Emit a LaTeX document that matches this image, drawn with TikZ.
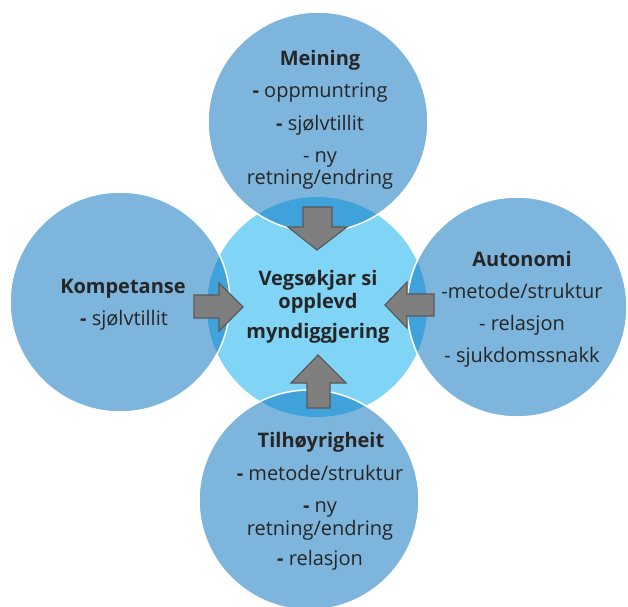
\documentclass[tikz,border=0pt]{standalone}
\usepackage{fontspec}
\setmainfont{Open Sans}
\definecolor{outerblue}{HTML}{7DB5DD}
\definecolor{centerblue}{HTML}{80D4F6}
\definecolor{overlapblue}{HTML}{3FA2DB}
\definecolor{arrowgray}{HTML}{7F7F7F}
\definecolor{arrowedge}{HTML}{595959}
\definecolor{txtcol}{HTML}{262626}
\begin{document}
\begin{tikzpicture}[x=1pt,y=-1pt,
  circ/.style={circle,minimum size=220pt,inner sep=0pt},
  outercirc/.style={circ,fill=outerblue},
  ring/.style={circ,draw=white,line width=1.5pt},
  blockarrow/.style={fill=arrowgray,draw=arrowedge,line width=1.2pt,line join=miter},
  txt/.style={anchor=base,inner sep=0pt,text=txtcol,font=\fontsize{20}{22}\selectfont},
  btxt/.style={txt,font=\fontsize{20}{22}\selectfont\bfseries}]
\useasboundingbox (0,0) rectangle (628,606);
% circles
\node[circ,fill=centerblue] (C) at (317,307) {};
\node[outercirc] (T) at (318,122) {};
\node[outercirc] (L) at (120,302) {};
\node[outercirc] (R) at (517,307) {};
\node[outercirc] (B) at (309,500) {};
% overlaps
\begin{scope}
  \clip (317,307) circle (110);
  \fill[overlapblue] (318,122) circle (110);
  \fill[overlapblue] (120,302) circle (110);
  \fill[overlapblue] (517,307) circle (110);
  \fill[overlapblue] (309,500) circle (110);
\end{scope}
\node[ring] at (T) {};
\node[ring] at (L) {};
\node[ring] at (R) {};
\node[ring] at (B) {};
% arrows
\draw[blockarrow] (303,207) -- (332,207) -- (332,227) -- (347,227) -- (317,250) -- (288,227) -- (303,227) -- cycle;
\draw[blockarrow] (194,295) -- (219,295) -- (219,283) -- (243,307) -- (219,331) -- (219,318) -- (194,318) -- cycle;
\draw[blockarrow] (434,294) -- (407,294) -- (407,282) -- (385,305) -- (407,328) -- (407,316) -- (434,316) -- cycle;
\draw[blockarrow] (307,408) -- (307,383) -- (291,383) -- (318,355) -- (346,383) -- (330,383) -- (330,408) -- cycle;
% texts: Meining
\node[btxt] (m0) at (320,65) {Meining};
\node[txt] (m1) at (320,97) {\textbf{-} oppmuntring};
\node[txt] (m2) at (320,130) {\textbf{-} sjølvtillit};
\node[txt] (m3) at (320,162) {- ny};
\node[txt] (m4) at (320,184) {retning/endring};
% centre
\node[btxt] (c0) at (318,285) {Vegsøkjar si};
\node[btxt] (c1) at (318,308) {opplevd};
\node[btxt] (c2) at (318,338) {myndiggjering};
% Kompetanse
\node[btxt] (k0) at (123,293) {Kompetanse};
\node[txt] (k1) at (124,325) {\textbf{-} sjølvtillit};
% Autonomi
\node[btxt] (a0) at (522,266) {Autonomi};
\node[txt] (a1) at (522,298) {-metode/struktur};
\node[txt] (a2) at (522,330) {- relasjon};
\node[txt] (a3) at (522,362) {- sjukdomssnakk};
% Tilhoyrigheit
\node[btxt] (h0) at (321,447) {Tilhøyrigheit};
\node[txt] (h1) at (320,480) {\textbf{-} metode/struktur};
\node[txt] (h2) at (320,512) {\textbf{-} ny};
\node[txt] (h3) at (320,535) {retning/endring};
\node[txt] (h4) at (320,565) {\textbf{-} relasjon};
\end{tikzpicture}
\end{document}
